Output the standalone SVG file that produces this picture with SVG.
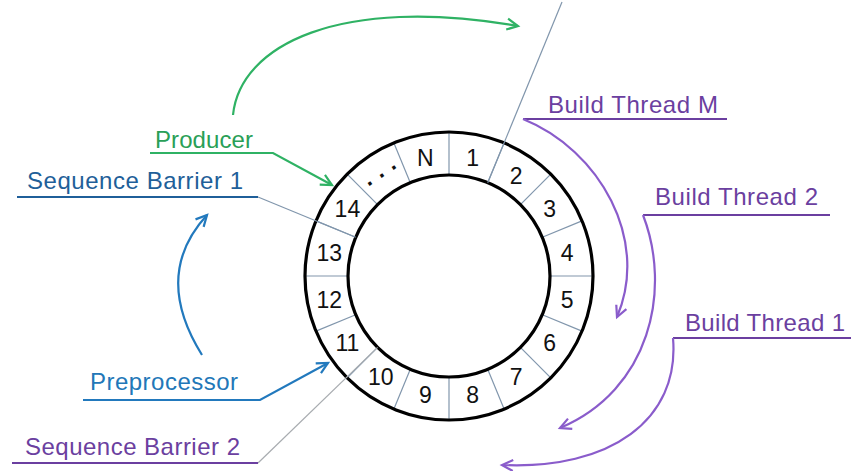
<svg xmlns="http://www.w3.org/2000/svg" width="851" height="471" viewBox="0 0 851 471">
<style>
text{font-family:"Liberation Sans",Arial,sans-serif;font-size:24px}
.num{font-size:23px;fill:#111;text-anchor:middle}
.div{stroke:#8196ac;stroke-width:1.2;fill:none}
.ring{stroke:#000;stroke-width:3.2;fill:none}
.g{stroke:#2fb264;stroke-width:2.2;fill:none}
.b{stroke:#2279bd;stroke-width:2.2;fill:none}
.bu{stroke:#1f5f99;stroke-width:2.2;fill:none}
.p{stroke:#8a5ccb;stroke-width:2.2;fill:none}
.pu{stroke:#6b3fa0;stroke-width:2.2;fill:none}
</style>
<defs>
<marker id="ag" markerUnits="userSpaceOnUse" markerWidth="16" markerHeight="16" refX="12" refY="6" orient="auto" overflow="visible"><path d="M1,0.5 L12,6 L1,11.5" fill="none" stroke="#2fb264" stroke-width="2.2"/></marker>
<marker id="ab" markerUnits="userSpaceOnUse" markerWidth="16" markerHeight="16" refX="12" refY="6" orient="auto" overflow="visible"><path d="M1,0.5 L12,6 L1,11.5" fill="none" stroke="#2279bd" stroke-width="2.2"/></marker>
<marker id="ap" markerUnits="userSpaceOnUse" markerWidth="16" markerHeight="16" refX="12" refY="6" orient="auto" overflow="visible"><path d="M1,0.5 L12,6 L1,11.5" fill="none" stroke="#8a5ccb" stroke-width="2.2"/></marker>
</defs>
<rect width="851" height="471" fill="#fff"/>

<g id="ring-buffer">
<g class="div">
<line x1="449" y1="175" x2="449" y2="132"/>
<line x1="487.7" y1="182.7" x2="504.1" y2="143"/>
<line x1="520.4" y1="204.6" x2="550.8" y2="174.2"/>
<line x1="542.3" y1="237.3" x2="582" y2="220.9"/>
<line x1="550" y1="276" x2="593" y2="276"/>
<line x1="542.3" y1="314.7" x2="582" y2="331.1"/>
<line x1="520.4" y1="347.4" x2="550.8" y2="377.8"/>
<line x1="487.7" y1="369.3" x2="504.1" y2="409"/>
<line x1="449" y1="377" x2="449" y2="420"/>
<line x1="410.3" y1="369.3" x2="393.9" y2="409"/>
<line x1="377.6" y1="347.4" x2="347.2" y2="377.8"/>
<line x1="355.7" y1="314.7" x2="316" y2="331.1"/>
<line x1="348" y1="276" x2="305" y2="276"/>
<line x1="355.7" y1="237.3" x2="316" y2="220.9"/>
<line x1="377.6" y1="204.6" x2="347.2" y2="174.2"/>
<line x1="410.3" y1="182.7" x2="393.9" y2="143"/>
</g>
<circle class="ring" cx="449" cy="276" r="144"/>
<circle class="ring" cx="449" cy="276" r="101"/>
<text class="num" x="472.6" y="165.5">1</text>
<text class="num" x="516.2" y="183.6">2</text>
<text class="num" x="549.6" y="217">3</text>
<text class="num" x="567.2" y="260.6">4</text>
<text class="num" x="567.2" y="307.8">5</text>
<text class="num" x="549.6" y="351.4">6</text>
<text class="num" x="516.2" y="384.8">7</text>
<text class="num" x="472.6" y="402.9">8</text>
<text class="num" x="425.4" y="402.9">9</text>
<text class="num" x="380.8" y="384.8">10</text>
<text class="num" x="347.4" y="351.4">11</text>
<text class="num" x="329.3" y="307.8">12</text>
<text class="num" x="329.3" y="260.6">13</text>
<text class="num" x="347.4" y="217">14</text>
<text class="num" x="425.4" y="165.5">N</text>
<text class="num" x="385" y="177" letter-spacing="8" font-weight="bold" transform="rotate(-33.75 382 174)">...</text>
</g>

<g id="producer">
<text x="155" y="148" fill="#2a9f57" textLength="98">Producer</text>
</g>
<g id="sequence-barrier-1">
<text x="27" y="189" fill="#1f5f99" textLength="216">Sequence Barrier 1</text>
</g>
<g id="preprocessor">
<text x="90" y="390" fill="#2277b8" textLength="148">Preprocessor</text>
</g>
<g id="sequence-barrier-2">
<text x="25" y="455" fill="#6b3fa0" textLength="215">Sequence Barrier 2</text>
</g>
<g id="build-thread-m">
<text x="548" y="113" fill="#6b3fa0" textLength="170">Build Thread M</text>
</g>
<g id="build-thread-2">
<text x="655" y="205" fill="#6b3fa0" textLength="163">Build Thread 2</text>
</g>
<g id="build-thread-1">
<text x="685" y="331" fill="#6b3fa0" textLength="160">Build Thread 1</text>
</g>

<g id="connectors">
<line class="div" x1="487.7" y1="182.7" x2="562" y2="2"/>
<path class="div" d="M258,197 L355.7,237.3"/>
<path d="M258,463 L377.6,347.4" fill="none" stroke="#a8acb0" stroke-width="1.2"/>
<path class="g" d="M150,153 H273 L332,185" marker-end="url(#ag)"/>
<path class="g" d="M233,115 C240,45 340,-5 518,26" marker-end="url(#ag)"/>
<path class="bu" d="M17,197 H258"/>
<path class="b" d="M83,400 H260 L328,363" marker-end="url(#ab)"/>
<path class="b" d="M202,355 Q152,275 207,215" marker-end="url(#ab)"/>
<path class="pu" d="M12,463 H258"/>
<path class="pu" d="M523,119 H727"/>
<path class="pu" d="M643,215 H830"/>
<path class="pu" d="M673,338 H851"/>
<path class="p" d="M523,119 C600,150 650,240 617,317" marker-end="url(#ap)"/>
<path class="p" d="M643,215 C672,290 650,390 560,428" marker-end="url(#ap)"/>
<path class="p" d="M673,338 C680,420 610,470 502,465" marker-end="url(#ap)"/>
</g>
</svg>
